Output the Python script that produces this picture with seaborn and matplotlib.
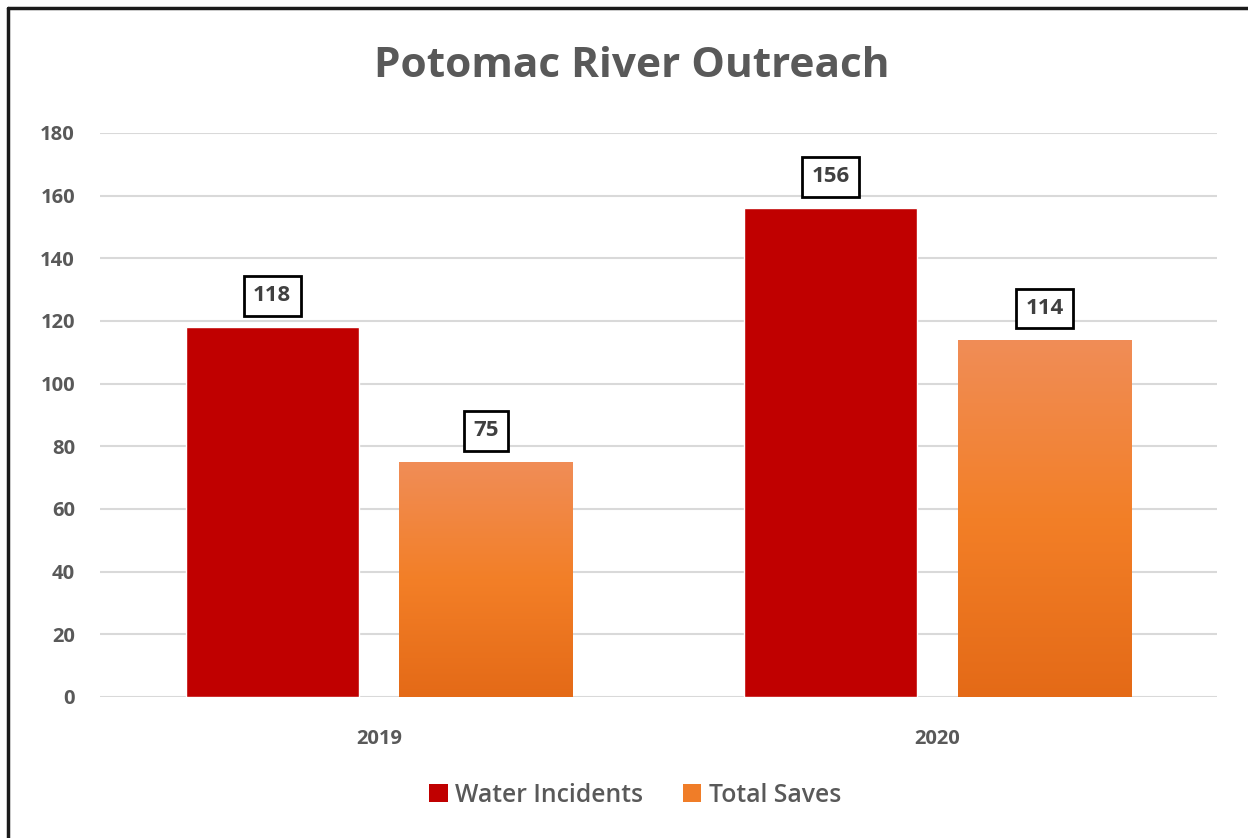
import numpy as np
import pandas as pd
import matplotlib
matplotlib.use("Agg")
import matplotlib.pyplot as plt
import seaborn as sns
from matplotlib.colors import LinearSegmentedColormap
from matplotlib.patches import Patch
from matplotlib.lines import Line2D

years = ["2019", "2020"]
series = ["Water Incidents", "Total Saves"]
water_incidents = [118, 156]
total_saves = [75, 114]
y_ticks = [0, 20, 40, 60, 80, 100, 120, 140, 160, 180]

df = pd.DataFrame({
    "year": years * 2,
    "series": [series[0]] * 2 + [series[1]] * 2,
    "value": water_incidents + total_saves,
})

sns.set_theme(style="white")
plt.rcParams["font.family"] = ["Open Sans", "DejaVu Sans"]

GRAY = "#595959"
RED = "#C00000"
ORANGE = "#F07D28"

fig = plt.figure(figsize=(12.48, 8.38), dpi=100)
ax = fig.add_axes([0.0801, 0.1683, 0.8949, 0.6730])

sns.barplot(data=df, x="year", y="value", hue="series", order=years,
            hue_order=series, palette=[RED, ORANGE], width=0.766, gap=0.19,
            ax=ax, legend=False, saturation=1)

ax.set_ylim(0, 180)
ax.set_xlim(-0.5, 1.5)
ax.set_yticks(y_ticks)
ax.yaxis.grid(True, color="#D9D9D9", linewidth=1.5)
ax.set_axisbelow(True)
for s in ax.spines.values():
    s.set_visible(False)
ax.set_xlabel("")
ax.set_ylabel("")
ax.tick_params(axis="y", length=0, pad=18, labelsize=14.5, labelcolor=GRAY)
ax.tick_params(axis="x", length=0, pad=23, labelsize=14.5, labelcolor=GRAY)
for lab in ax.get_xticklabels() + ax.get_yticklabels():
    lab.set_fontweight("bold")

# gradient on the orange bars
cmap = LinearSegmentedColormap.from_list("og", ["#E46A17", "#F37F27", "#F08D57"])
grad = np.linspace(0, 1, 256).reshape(-1, 1)
orange_bars = ax.containers[1]
for p in orange_bars.patches:
    x0, y0 = p.get_x(), p.get_y()
    w, h = p.get_width(), p.get_height()
    p.set_facecolor("none")
    p.set_edgecolor("none")
    im = ax.imshow(grad, cmap=cmap, origin="lower", aspect="auto",
                   extent=[x0, x0 + w, y0, y0 + h], zorder=p.get_zorder())
    im.set_clip_path(p)
ax.set_xlim(-0.5, 1.5)
ax.set_ylim(0, 180)

# value labels in boxes
for cont in ax.containers:
    for p in cont.patches:
        h = p.get_height()
        ax.annotate(f"{int(round(h))}", xy=(p.get_x() + p.get_width() / 2, h),
                    xytext=(0, 22.5), textcoords="offset points",
                    ha="center", va="center", fontsize=16, fontweight="bold",
                    color="#404040",
                    bbox=dict(boxstyle="square,pad=0.42", facecolor="white",
                              edgecolor="black", linewidth=2))

fig.text(0.506, 0.921, "Potomac River Outreach", ha="center", va="center",
         fontsize=30.5, fontweight="bold", color=GRAY)

handles = [Patch(facecolor=RED, edgecolor="none"),
           Patch(facecolor=ORANGE, edgecolor="none")]
fig.legend(handles, series, loc="center", bbox_to_anchor=(0.509, 0.051),
           ncol=2, frameon=False, labelcolor=GRAY,
           prop={"weight": "semibold", "size": 17.8},
           handlelength=0.75, handleheight=0.75, handletextpad=0.3,
           columnspacing=1.6)

# frame lines on top and left
fig.add_artist(Line2D([0.0065, 1.0], [0.9905, 0.9905], transform=fig.transFigure,
                      color="#1a1a1a", linewidth=2.5))
fig.add_artist(Line2D([0.0068, 0.0068], [0.0, 0.9905], transform=fig.transFigure,
                      color="#1a1a1a", linewidth=2.5))

fig.savefig("out.png", dpi=100, facecolor="white")
